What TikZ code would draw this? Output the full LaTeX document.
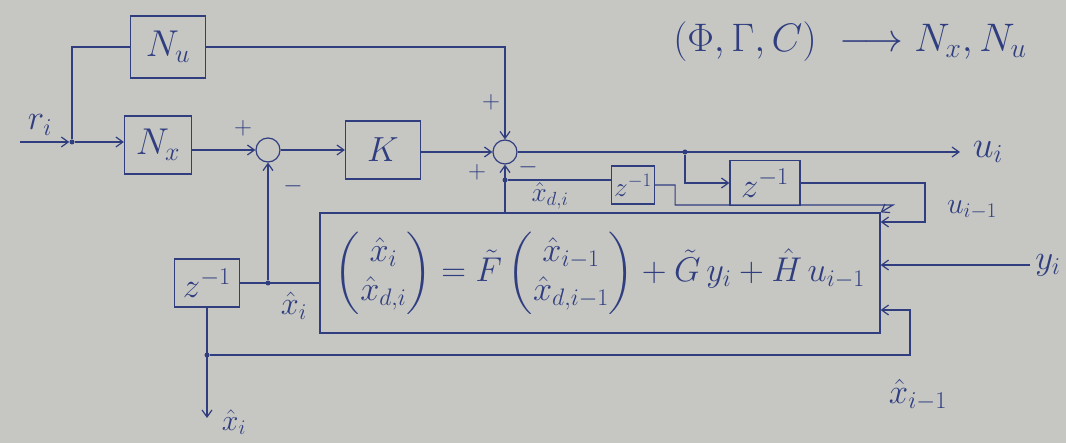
\documentclass[tikz,border=0pt]{standalone}
\usepackage{amsmath}
\usepackage{graphicx}
\usetikzlibrary{arrows.meta,calc}
\definecolor{paper}{RGB}{198,199,195}
\definecolor{ink}{RGB}{48,62,128}
\tikzset{
  ink/.style={draw=ink, line width=1.2pt},
  blk/.style={ink, rectangle, inner sep=0pt, text=ink, font=\fontsize{24}{28}\selectfont},
  sumc/.style={ink, circle, minimum size=24pt, inner sep=0pt},
  conn/.style={ink},
  arr/.style={ink, -{Straight Barb[length=7pt,width=10pt,line width=1.2pt]}},
  lbl/.style={text=ink, font=\fontsize{24}{28}\selectfont, inner sep=1pt},
  sgn/.style={text=ink, font=\fontsize{24}{28}\selectfont, inner sep=0pt},
  dotn/.style={fill=ink, circle, inner sep=0pt, minimum size=5pt}
}
\begin{document}
\begin{tikzpicture}[x=1pt,y=-1pt]
\fill[paper] (0,0) rectangle (1066,443);
\useasboundingbox (0,0) rectangle (1066,443);

% blocks
\node[blk, minimum width=75pt, minimum height=62pt] (Nu) at (168,47) {\scalebox{1.5}{$N_u$}};
\node[blk, minimum width=67pt, minimum height=58pt] (Nx) at (158,145) {\scalebox{1.5}{$N_x$}};
\node[sumc] (s1) at (268,150) {};
\node[blk, minimum width=75pt, minimum height=58pt] (K) at (383,150) {\scalebox{1.4}{$K$}};
\node[sumc] (s2) at (505,152) {};
\node[blk, minimum width=43pt, minimum height=38pt] (Z1) at (633,185) {\scalebox{1.1}{$z^{-1}$}};
\node[blk, minimum width=70pt, minimum height=45pt] (Z2) at (765,183) {\scalebox{1.4}{$z^{-1}$}};
\node[blk, minimum width=65pt, minimum height=48pt] (Z3) at (207,283) {\scalebox{1.4}{$z^{-1}$}};
\node[blk, minimum width=560pt, minimum height=120pt] (E) at (600,273)
  {\scalebox{1.38}{$\begin{pmatrix}\hat{x}_i\\ \hat{x}_{d,i}\end{pmatrix} = \tilde{F}\begin{pmatrix}\hat{x}_{i-1}\\ \hat{x}_{d,i-1}\end{pmatrix} + \tilde{G}\,y_i + \hat{H}\,u_{i-1}$}};

% junctions and terminals
\coordinate (in) at (20,142);
\node[dotn] (J) at (72,142) {};
\coordinate (out) at (960,152);
\node[dotn] (D1) at (685,152) {};
\node[dotn] (D4) at (505,180) {};
\node[dotn] (D2) at (268,283) {};
\node[dotn] (D3) at (207,355) {};
\coordinate (xout) at (207,418);
\coordinate (c1) at (925,222);
\coordinate (c2) at (893,205);
\coordinate (yin) at (1030,265);
\coordinate (c3) at (910,310);

% connectors
\draw[arr] (in) -- (J);
\draw[conn] (J) |- (Nu.west);
\draw[arr] (J) -- (Nx.west |- J);
\draw[arr] (Nx.east |- s1) -- (s1.west);
\draw[arr] (s1.east) -- (K.west |- s1);
\draw[arr] (K.east |- s2) -- (s2.west);
\draw[arr] (Nu.east) -| (s2.north);
\draw[arr] (s2.east) -- (out);
\draw[arr] (D1) |- (Z2.west);
\draw[arr] (Z2.east) -| (c1) -- (E.east |- c1);
\draw[arr] (E.north -| s2) -- (s2.south);
\draw[conn] (D4) -- (Z1.west |- D4);
\draw[arr] (Z1.east) -- ++(20,0) |- (c2) -- (E.north east);
\draw[arr] (yin) -- (E.east |- yin);
\draw[conn] (E.west |- D2) -- (Z3.east |- D2);
\draw[arr] (D2) -- (s1.south);
\draw[arr] (Z3.south) -- (xout);
\draw[arr] (D3) -| (c3) -- (E.east |- c3);

% labels
\node[lbl] (lr) at (40,125) {\scalebox{1.4}{$r_i$}};
\node[lbl] (lu) at (988,152) {\scalebox{1.5}{$u_i$}};
\node[lbl] (lxd) at (550,196) {\scalebox{1.1}{$\hat{x}_{d,i}$}};
\node[lbl] (lxi) at (294,306) {\scalebox{1.3}{$\hat{x}_i$}};
\node[lbl] (lum) at (972,210) {\scalebox{1.2}{$u_{i-1}$}};
\node[lbl] (ly) at (1048,265) {\scalebox{1.4}{$y_i$}};
\node[lbl] (lxim) at (918,395) {\scalebox{1.4}{$\hat{x}_{i-1}$}};
\node[lbl] (lxo) at (234,422) {\scalebox{1.2}{$\hat{x}_i$}};
\node[lbl] (top) at (850,42) {\scalebox{1.6}{$(\Phi,\Gamma,C)\ \longrightarrow N_x, N_u$}};

% signs
\node[sgn] (p1) at (243,128) {$+$};
\node[sgn] (m1) at (293,186) {$-$};
\node[sgn] (p2) at (491,102) {$+$};
\node[sgn] (p3) at (477,172) {$+$};
\node[sgn] (m2) at (528,167) {$-$};
\end{tikzpicture}
\end{document}
